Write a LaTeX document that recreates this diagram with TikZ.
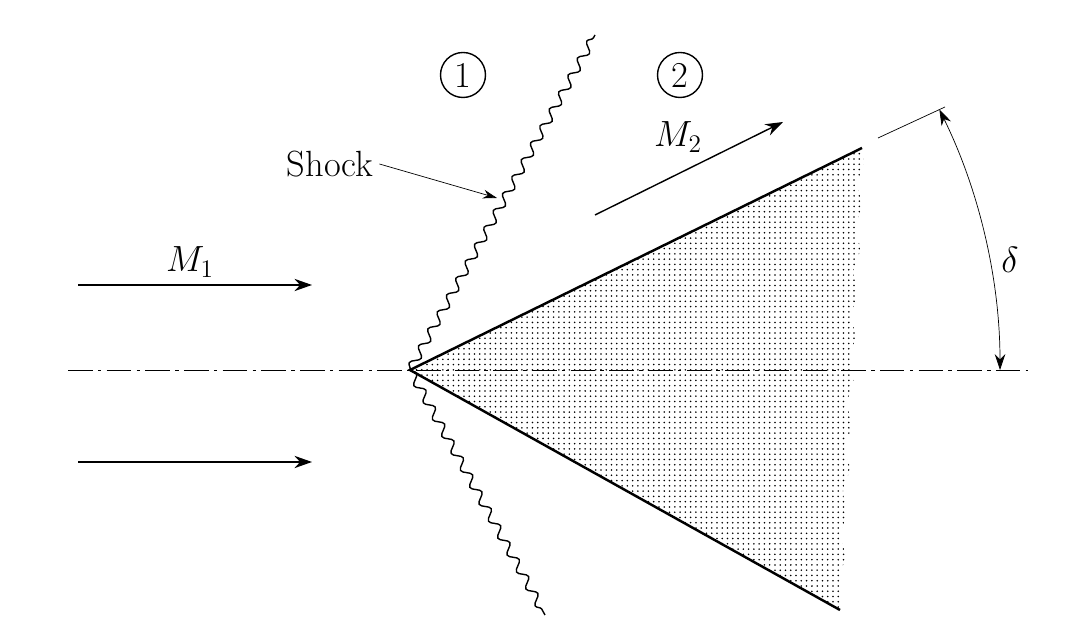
\documentclass[tikz,border=0pt]{standalone}
\usetikzlibrary{decorations.pathmorphing,patterns,arrows.meta}
\begin{document}
\begin{tikzpicture}[
    flow/.style={-{Stealth[length=10pt,width=7pt]},thick},
    shockline/.style={thick,decorate,decoration={snake,amplitude=2.4pt,segment length=11pt}},
    region/.style={circle,draw,thick,minimum size=0.9cm,inner sep=0pt,font=\huge},
    lbl/.style={font=\huge}]
    \useasboundingbox (0,0) rectangle (21.44,12.88);

    %points
    \coordinate (apex) at (8.2,5.48);
    \coordinate (uptip) at (17.24,9.92);
    \coordinate (lowtip) at (16.8,0.68);

    %wedge
    \path[pattern=dots,pattern color=black] (apex) -- (uptip)
        decorate[decoration={snake,amplitude=1.5pt,segment length=25pt}]{-- (lowtip)} -- cycle;
    \draw[line width=1.4pt] (uptip) -- (apex) -- (lowtip);

    %axis
    \coordinate (axl) at (1.36,5.48);
    \coordinate (axr) at (20.56,5.48);
    \draw[dash pattern=on 14pt off 3pt on 2pt off 3pt] (axl) -- (axr);

    %shock
    \coordinate (shup) at (11.9,12.18);
    \coordinate (shlow) at (10.9,0.58);
    \draw[shockline] (apex) -- (shup);
    \draw[shockline] (apex) -- (shlow);

    %regions
    \node[region] (r1) at (9.26,11.38) {1};
    \node[region] (r2) at (13.6,11.38) {2};

    %flow
    \node[lbl] (m1) at (3.8,7.64) {$M_1$};
    \coordinate (a1s) at (1.56,7.18); \coordinate (a1e) at (6.24,7.18);
    \coordinate (a2s) at (1.56,3.64); \coordinate (a2e) at (6.24,3.64);
    \draw[flow] (a1s) -- (a1e);
    \draw[flow] (a2s) -- (a2e);
    \node[lbl] (m2) at (13.56,10.14) {$M_2$};
    \coordinate (a3s) at (11.9,8.58); \coordinate (a3e) at (15.66,10.44);
    \draw[flow] (a3s) -- (a3e);

    %shock label
    \node[lbl] (shock) at (6.6,9.6) {Shock};
    \coordinate (shpt) at (9.94,8.92);
    \draw[-{Stealth[length=8pt,width=5pt]}] (shock.east) -- (shpt);

    %angle
    \coordinate (ext1) at (17.56,10.12); \coordinate (ext2) at (18.9,10.74);
    \draw (ext1) -- (ext2);
    \draw[{Stealth[length=9pt,width=6pt]}-{Stealth[length=9pt,width=6pt]}]
        ([shift={(26.2:11.8)}]apex) arc[start angle=26.2,end angle=0,radius=11.8];
    \node[lbl] (delta) at (20.2,7.68) {$\delta$};
\end{tikzpicture}
\end{document}
